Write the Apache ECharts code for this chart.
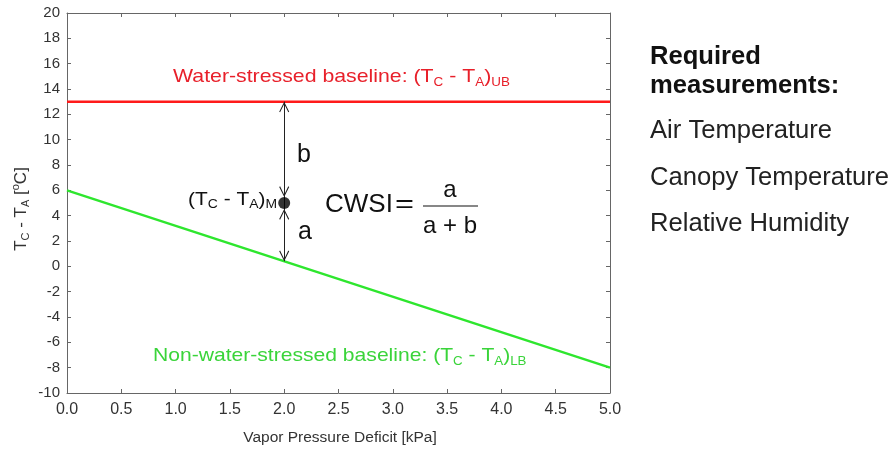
<!DOCTYPE html>
<html><head><meta charset="utf-8">
<script src="https://cdn.jsdelivr.net/npm/echarts@6/dist/echarts.min.js"></script>
<style>html,body{margin:0;padding:0;background:#fff}#c{width:896px;height:456px}</style>
</head><body><div id="c"></div>
<script>
// ---- data ----
const xMin = 0, xMax = 5, xInterval = 0.5;
const yMin = -10, yMax = 20, yInterval = 2;
const baselineX = [0, 5];
const upperBaseline = [13, 13];      // water-stressed baseline (T_C - T_A)_UB
const lowerBaseline = [6, -8];       // non-water-stressed baseline (T_C - T_A)_LB
const measuredX = 2;
const measuredY = 5;                 // (T_C - T_A)_M
const upperAtMeasured = 13;
const lowerAtMeasured = 0.4;
const requiredTitle = ['Required', 'measurements:'];
const requiredItems = ['Air Temperature', 'Canopy Temperature', 'Relative Humidity'];

const FONT = 'Liberation Sans, Arial, sans-serif';
const chart = echarts.init(document.getElementById('c'), null, {renderer: 'canvas'});
// open chevron, tip at the symbol centre
const chevTip = 'path://M5,-10.7 L5.01,-10.7 L5,-10.7 Z M0,10 L5,0 L10,10 L9.1,10.7 L5,2.3 L0.9,10.7 Z';
// open chevron, tip 6px short of the symbol centre (stops at the dot edge)
const chevGap = 'path://M5,-22.7 L5.01,-22.7 L5,-22.7 Z M0,10 L5,0 L10,10 L9.1,10.7 L5,2.3 L0.9,10.7 Z';
const tipEnd = {symbol: chevTip, symbolSize: [10, 21.4]};
const gapEnd = {symbol: chevGap, symbolSize: [10, 33.4]};
const axisLineStyle = {color: '#666', width: 1};

function rich(color, size, subSize) {
  return {
    m: {fontSize: size, lineHeight: size + 4, fill: color, fontFamily: FONT},
    s: {fontSize: subSize, lineHeight: 6, verticalAlign: 'bottom', fill: color, fontFamily: FONT},
    p: {fontSize: subSize, lineHeight: 6, verticalAlign: 'top', fill: color, fontFamily: FONT}
  };
}
function frameAxis(pos, extra) {
  return Object.assign({
    type: 'value', position: pos,
    axisLine: {show: true, onZero: false, lineStyle: axisLineStyle},
    axisTick: {show: true, inside: true, length: 4, lineStyle: axisLineStyle},
    splitLine: {show: false}
  }, extra);
}

const option = {
  animation: false,
  backgroundColor: '#fff',
  grid: {left: 67, right: 286, top: 13, bottom: 63},
  xAxis: [
    frameAxis('bottom', {min: xMin, max: xMax, interval: xInterval,
      axisLabel: {color: '#333', fontSize: 16, fontFamily: FONT, margin: 9, formatter: v => v.toFixed(1)}}),
    frameAxis('top', {min: xMin, max: xMax, interval: xInterval, axisLabel: {show: false}})
  ],
  yAxis: [
    frameAxis('left', {min: yMin, max: yMax, interval: yInterval,
      axisLabel: {color: '#333', fontSize: 15, fontFamily: FONT, margin: 7}}),
    frameAxis('right', {min: yMin, max: yMax, interval: yInterval, axisLabel: {show: false}})
  ],
  series: [
    {type: 'line', data: baselineX.map((x, i) => [x, upperBaseline[i]]), symbol: 'none',
     lineStyle: {color: '#ff1a1a', width: 2.5}, silent: true, z: 3},
    {type: 'line', data: baselineX.map((x, i) => [x, lowerBaseline[i]]), symbol: 'none',
     lineStyle: {color: '#2ee62e', width: 2.5}, silent: true, z: 3},
    {type: 'scatter', data: [[measuredX, measuredY]], symbolSize: 12,
     itemStyle: {color: '#000'}, silent: true, z: 5,
     markLine: {
       silent: true, symbol: [chevTip, chevTip], symbolSize: [10, 21.4],
       lineStyle: {color: '#222', width: 1, type: 'solid'}, label: {show: false},
       data: [
         [Object.assign({coord: [measuredX, upperAtMeasured]}, tipEnd), Object.assign({coord: [measuredX, measuredY]}, gapEnd)],
         [Object.assign({coord: [measuredX, measuredY]}, gapEnd), Object.assign({coord: [measuredX, lowerAtMeasured]}, tipEnd)]
       ]
     }}
  ],
  graphic: [
    {type: 'text', x: 173, y: 77, scaleX: 1.12, style: {
      text: '{m|Water-stressed baseline: (T}{s|C}{m| - T}{s|A}{m|)}{s|UB}', verticalAlign: 'middle',
      rich: rich('#e8202a', 19, 12)}},
    {type: 'text', x: 153, y: 356, scaleX: 1.11, style: {
      text: '{m|Non-water-stressed baseline: (T}{s|C}{m| - T}{s|A}{m|)}{s|LB}', verticalAlign: 'middle',
      rich: rich('#3ad43a', 19, 12)}},
    {type: 'text', x: 277, y: 200, scaleX: 1.16, style: {
      text: '{m|(T}{s|C}{m| - T}{s|A}{m|)}{s|M}', align: 'right', verticalAlign: 'middle',
      rich: rich('#111', 18, 12)}},
    {type: 'text', x: 297, y: 155, style: {text: 'b', font: '25px ' + FONT, fill: '#111', verticalAlign: 'middle'}},
    {type: 'text', x: 298, y: 232, style: {text: 'a', font: '25px ' + FONT, fill: '#111', verticalAlign: 'middle'}},
    {type: 'text', x: 325, y: 205, style: {text: 'CWSI', font: '26px ' + FONT, fill: '#111', verticalAlign: 'middle'}},
    {type: 'text', x: 395, y: 205, scaleX: 1.25, style: {text: '=', font: '26px ' + FONT, fill: '#111', verticalAlign: 'middle'}},
    {type: 'text', x: 450, y: 190, style: {text: 'a', font: '24px ' + FONT, fill: '#111', align: 'center', verticalAlign: 'middle'}},
    {type: 'line', shape: {x1: 423, y1: 206, x2: 478, y2: 206}, style: {stroke: '#111', lineWidth: 1.2}},
    {type: 'text', x: 450, y: 226, style: {text: 'a + b', font: '24px ' + FONT, fill: '#111', align: 'center', verticalAlign: 'middle'}},
    {type: 'text', x: 340, y: 438, style: {text: 'Vapor Pressure Deficit [kPa]', font: '15.5px ' + FONT, fill: '#333', align: 'center', verticalAlign: 'middle'}},
    {type: 'text', x: 21, y: 209, rotation: Math.PI / 2, style: {
      text: '{m|T}{s|C}{m| - T}{s|A}{m| [}{p|o}{m|C]}', align: 'center', verticalAlign: 'middle',
      rich: rich('#333', 17, 11)}},
    {type: 'text', x: 650, y: 57, style: {text: requiredTitle[0], font: 'bold 25.6px ' + FONT, fill: '#111', verticalAlign: 'middle'}},
    {type: 'text', x: 650, y: 86, style: {text: requiredTitle[1], font: 'bold 25.6px ' + FONT, fill: '#111', verticalAlign: 'middle'}},
    {type: 'text', x: 650, y: 131, style: {text: requiredItems[0], font: '25.6px ' + FONT, fill: '#222', verticalAlign: 'middle'}},
    {type: 'text', x: 650, y: 178, style: {text: requiredItems[1], font: '25.6px ' + FONT, fill: '#222', verticalAlign: 'middle'}},
    {type: 'text', x: 650, y: 224, style: {text: requiredItems[2], font: '25.6px ' + FONT, fill: '#222', verticalAlign: 'middle'}}
  ]
};
chart.setOption(option);
</script>
</body></html>
